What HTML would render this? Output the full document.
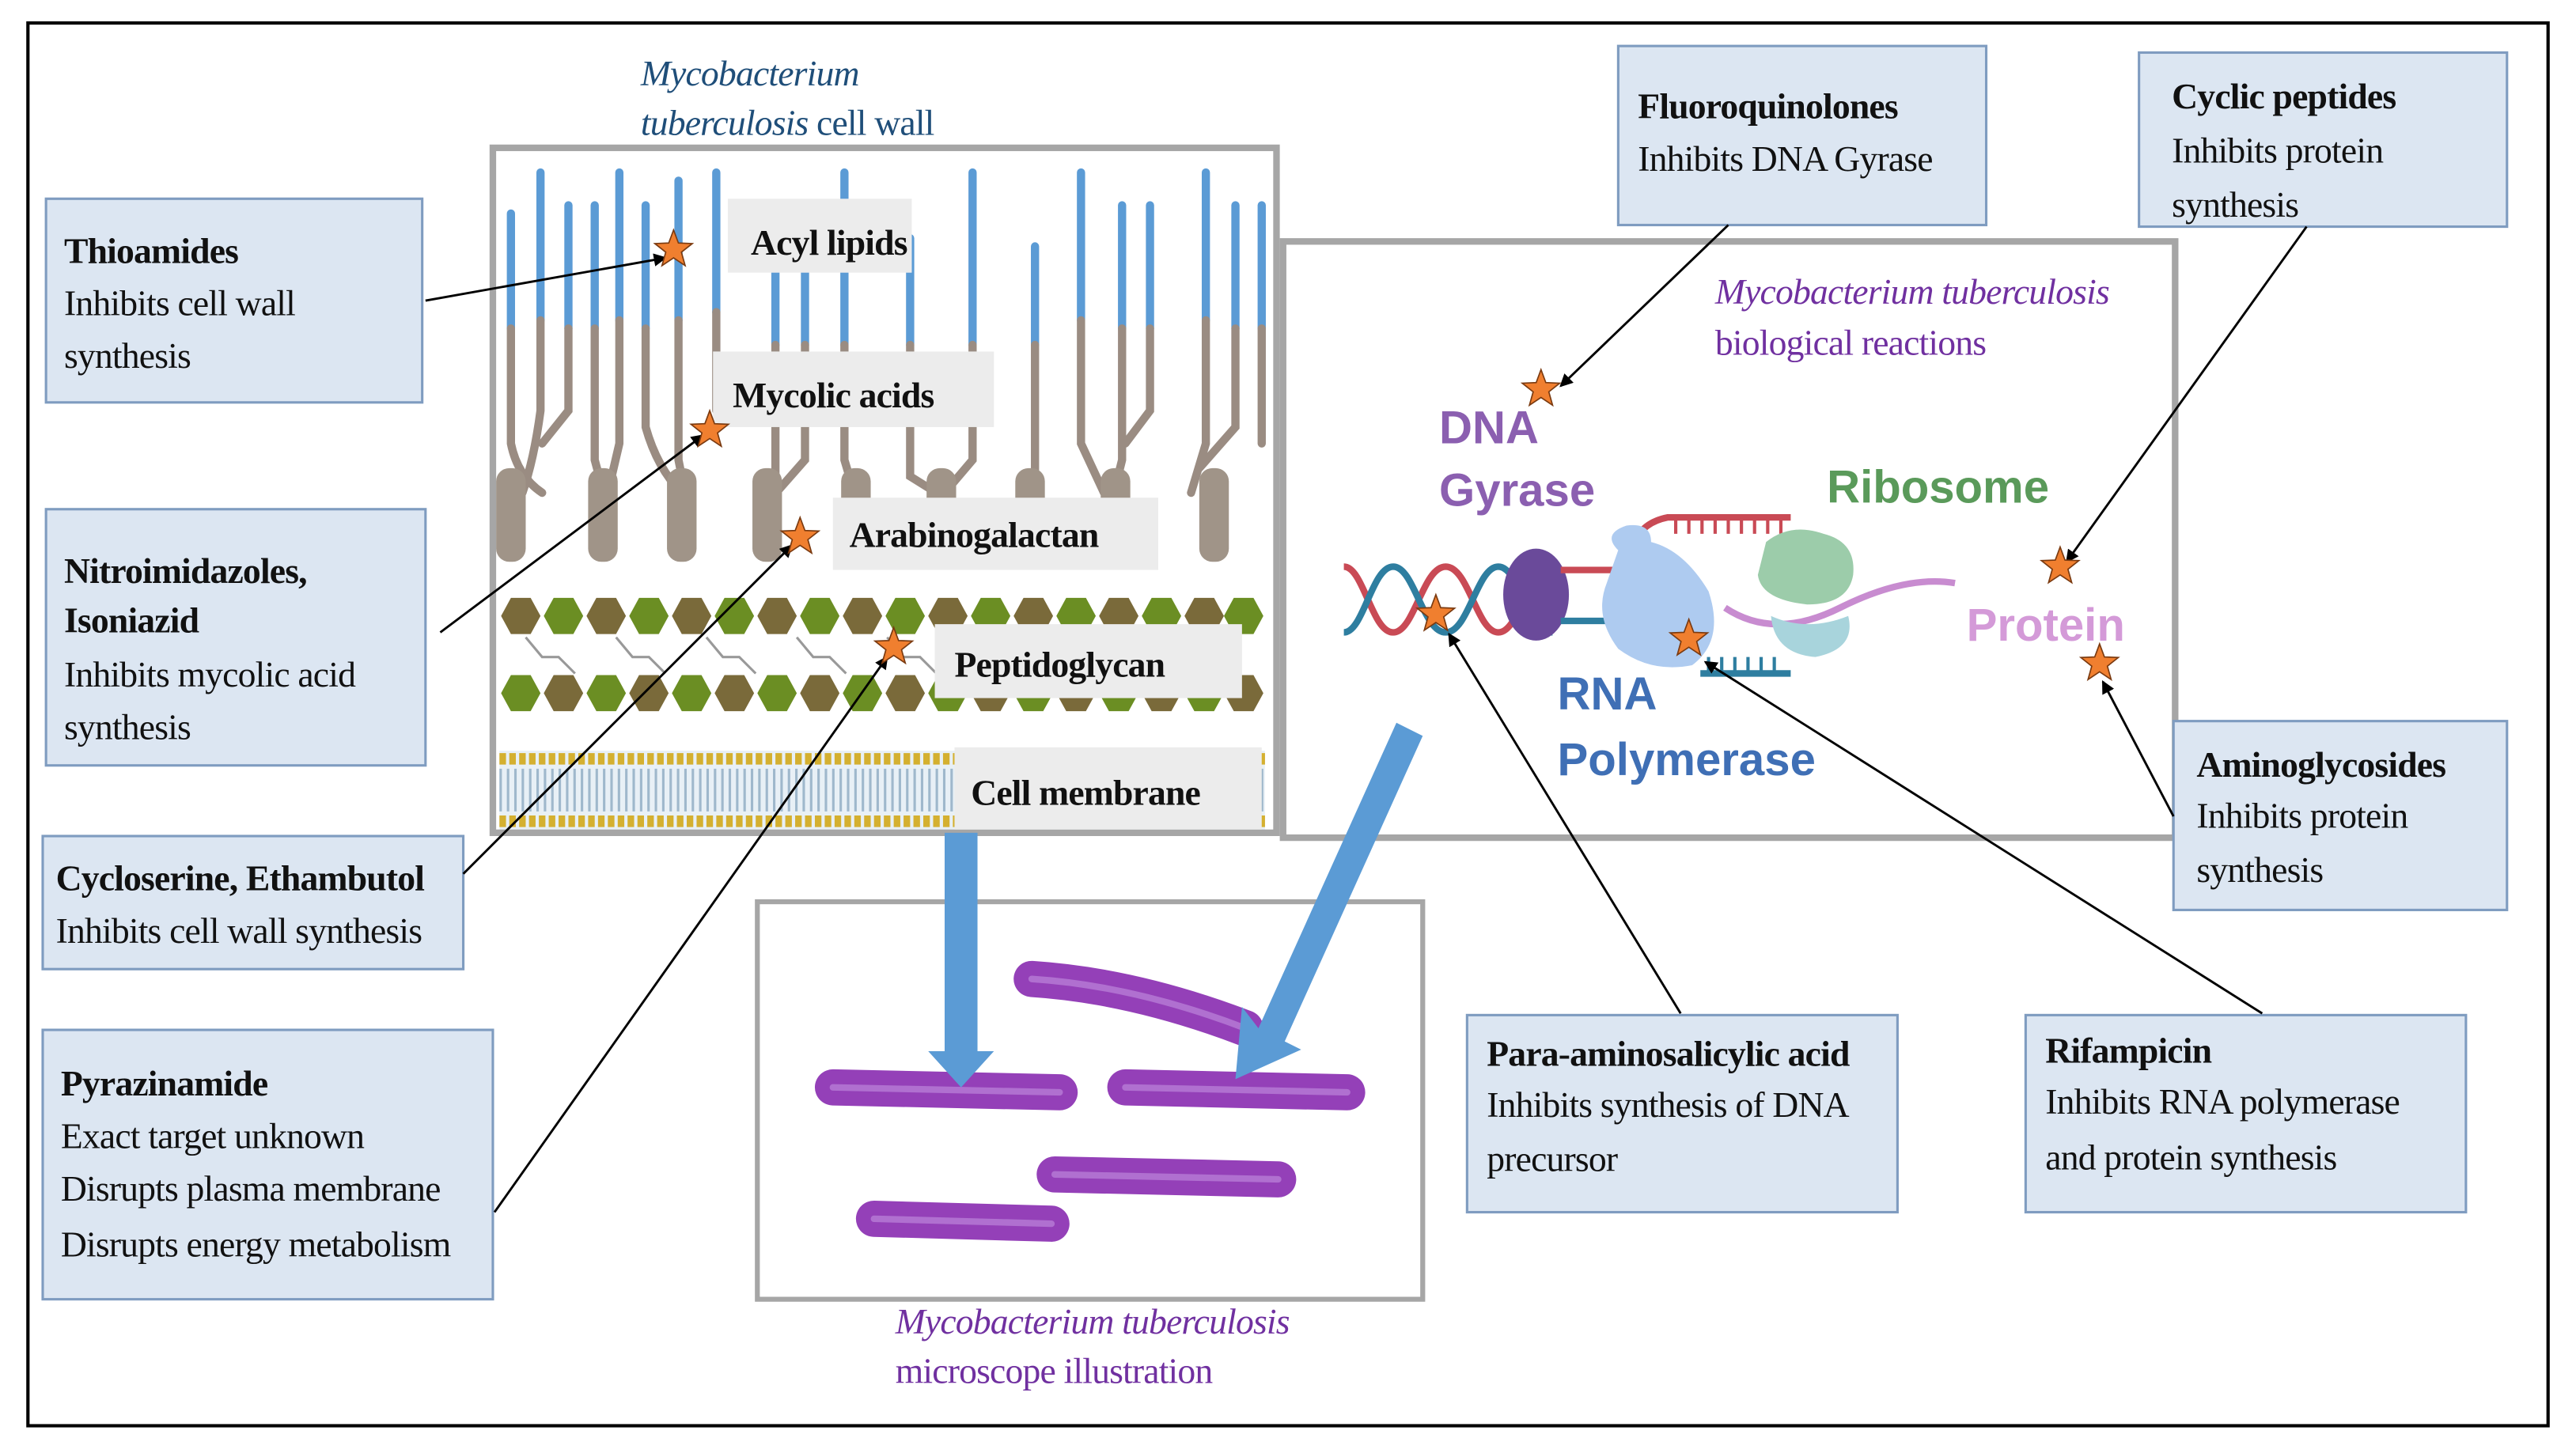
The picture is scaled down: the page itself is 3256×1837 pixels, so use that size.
<!DOCTYPE html>
<html><head><meta charset="utf-8"><style>
html,body{margin:0;padding:0;background:#fff;}
svg{display:block;}
.t{font-family:"Liberation Serif",serif;font-size:22px;fill:#111;letter-spacing:-0.4px;}
.b{font-weight:bold;}
.box{fill:#dce6f2;stroke:#7f9cc0;stroke-width:1.5;}
.lab{fill:#ececec;}
.con{stroke:#000;stroke-width:1.4;fill:none;marker-end:url(#ah);}
.sans{font-family:"Liberation Sans",sans-serif;font-weight:bold;}
</style></head><body>
<svg width="3256" height="1837" viewBox="0 0 1568 884.6" preserveAspectRatio="none" xmlns="http://www.w3.org/2000/svg">
<defs>
<marker id="ah" markerWidth="8" markerHeight="8" refX="7" refY="4" orient="auto" markerUnits="userSpaceOnUse"><path d="M0,0 L8,4 L0,8 z" fill="#000"/></marker>
<polygon id="star" points="0,-12 2.94,-4.05 11.41,-3.71 4.76,1.55 7.05,9.71 0,5 -7.05,9.71 -4.76,1.55 -11.41,-3.71 -2.94,-4.05" fill="#f07f2f" stroke="#7a3a10" stroke-width="0.8"/>
<polygon id="hex" points="-12,0 -6,-11 6,-11 12,0 6,11 -6,11"/>
</defs>
<rect x="0" y="0" width="1568" height="884.6" fill="#fff"/>
<rect x="17" y="14" width="1534" height="854" fill="none" stroke="#000" stroke-width="2"/>

<text x="390" y="52" class="t" style="fill:#1f4e79;font-style:italic">Mycobacterium</text>
<text x="390" y="82" class="t" style="fill:#1f4e79"><tspan font-style="italic">tuberculosis</tspan> cell wall</text>
<g stroke-linecap="round">
<g stroke="#5b9bd5" stroke-width="5">
<line x1="311" y1="130" x2="311" y2="200"/><line x1="329" y1="105" x2="329" y2="195"/><line x1="346" y1="125" x2="346" y2="200"/><line x1="362" y1="125" x2="362" y2="200"/><line x1="377" y1="105" x2="377" y2="195"/><line x1="393" y1="125" x2="393" y2="200"/><line x1="413" y1="110" x2="413" y2="195"/><line x1="436" y1="105" x2="436" y2="190"/><line x1="472" y1="150" x2="472" y2="210"/><line x1="490" y1="150" x2="490" y2="210"/><line x1="514" y1="105" x2="514" y2="210"/><line x1="554" y1="145" x2="554" y2="210"/><line x1="592" y1="105" x2="592" y2="210"/><line x1="630" y1="150" x2="630" y2="210"/><line x1="658" y1="105" x2="658" y2="195"/><line x1="683" y1="125" x2="683" y2="200"/><line x1="700" y1="125" x2="700" y2="200"/><line x1="734" y1="105" x2="734" y2="195"/><line x1="752" y1="125" x2="752" y2="200"/><line x1="768" y1="125" x2="768" y2="200"/>
</g>
<g stroke="#9a8c82" stroke-width="5" fill="none">
<path d="M311,200 L311,270 Q315,290 330,300"/><path d="M329,195 L329,250 Q325,280 318,300"/><path d="M346,200 L346,250 L330,270"/><path d="M362,200 L362,280 Q366,295 368,300"/><path d="M377,195 L377,270 L370,300"/><path d="M393,200 L393,260 Q400,285 415,300"/><path d="M413,195 L413,280 L418,305"/><path d="M436,190 L436,250"/><path d="M472,210 L472,290 L465,305"/><path d="M490,210 L490,280 L468,305"/><path d="M514,210 L514,280 L520,300"/><path d="M554,210 L554,290 L570,300"/><path d="M592,210 L592,280 L575,300"/><path d="M630,210 L630,290 L620,305"/><path d="M658,195 L658,270 L672,300"/><path d="M683,200 L683,280 L678,300"/><path d="M700,200 L700,250 L685,270"/><path d="M734,195 L734,270 L725,300"/><path d="M752,200 L752,260 L730,285"/><path d="M768,200 L768,270"/>
</g>
<g fill="#a09488">
<rect x="302" y="285" width="18" height="57" rx="8"/><rect x="358" y="285" width="18" height="57" rx="8"/><rect x="406" y="285" width="18" height="57" rx="8"/><rect x="458" y="285" width="18" height="57" rx="8"/><rect x="512" y="285" width="18" height="57" rx="8"/><rect x="564" y="285" width="18" height="57" rx="8"/><rect x="618" y="285" width="18" height="57" rx="8"/><rect x="670" y="285" width="18" height="57" rx="8"/><rect x="730" y="285" width="18" height="57" rx="8"/>
</g>
</g>
<g>
<use href="#hex" x="317" y="375" fill="#7a6a3a"/><use href="#hex" x="343" y="375" fill="#6b8e23"/><use href="#hex" x="369" y="375" fill="#7a6a3a"/><use href="#hex" x="395" y="375" fill="#6b8e23"/><use href="#hex" x="421" y="375" fill="#7a6a3a"/><use href="#hex" x="447" y="375" fill="#6b8e23"/><use href="#hex" x="473" y="375" fill="#7a6a3a"/><use href="#hex" x="499" y="375" fill="#6b8e23"/><use href="#hex" x="525" y="375" fill="#7a6a3a"/><use href="#hex" x="551" y="375" fill="#6b8e23"/><use href="#hex" x="577" y="375" fill="#7a6a3a"/><use href="#hex" x="603" y="375" fill="#6b8e23"/><use href="#hex" x="629" y="375" fill="#7a6a3a"/><use href="#hex" x="655" y="375" fill="#6b8e23"/><use href="#hex" x="681" y="375" fill="#7a6a3a"/><use href="#hex" x="707" y="375" fill="#6b8e23"/><use href="#hex" x="733" y="375" fill="#7a6a3a"/><use href="#hex" x="757" y="375" fill="#6b8e23"/>
<use href="#hex" x="317" y="422" fill="#6b8e23"/><use href="#hex" x="343" y="422" fill="#7a6a3a"/><use href="#hex" x="369" y="422" fill="#6b8e23"/><use href="#hex" x="395" y="422" fill="#7a6a3a"/><use href="#hex" x="421" y="422" fill="#6b8e23"/><use href="#hex" x="447" y="422" fill="#7a6a3a"/><use href="#hex" x="473" y="422" fill="#6b8e23"/><use href="#hex" x="499" y="422" fill="#7a6a3a"/><use href="#hex" x="525" y="422" fill="#6b8e23"/><use href="#hex" x="551" y="422" fill="#7a6a3a"/><use href="#hex" x="577" y="422" fill="#6b8e23"/><use href="#hex" x="603" y="422" fill="#7a6a3a"/><use href="#hex" x="629" y="422" fill="#6b8e23"/><use href="#hex" x="655" y="422" fill="#7a6a3a"/><use href="#hex" x="681" y="422" fill="#6b8e23"/><use href="#hex" x="707" y="422" fill="#7a6a3a"/><use href="#hex" x="733" y="422" fill="#6b8e23"/><use href="#hex" x="757" y="422" fill="#7a6a3a"/>
<path d="M320,388 l10,12 h10 l10,10 M375,388 l10,12 h10 l10,10 M430,388 l10,12 h10 l10,10 M485,388 l10,12 h10 l10,10 M540,388 l10,12 h10 l10,10" stroke="#999" stroke-width="1.5" fill="none"/>
</g>
<rect x="304" y="457" width="466" height="48" fill="#e8f0f6"/>
<line x1="304" y1="462" x2="770" y2="462" stroke="#d4b030" stroke-width="7" stroke-dasharray="4 2"/>
<line x1="304" y1="500" x2="770" y2="500" stroke="#d4b030" stroke-width="7" stroke-dasharray="4 2"/>
<line x1="304" y1="481" x2="770" y2="481" stroke="#9fb8cc" stroke-width="26" stroke-dasharray="1.5 3"/>
<rect x="300" y="90" width="477" height="417" fill="none" stroke="#a6a6a6" stroke-width="4"/>
<rect x="443" y="121" width="112" height="45" class="lab"/><text x="457" y="155" class="t b">Acyl lipids</text>
<rect x="434" y="214" width="171" height="46" class="lab"/><text x="446" y="248" class="t b">Mycolic acids</text>
<rect x="507" y="303" width="198" height="44" class="lab"/><text x="517" y="333" class="t b">Arabinogalactan</text>
<rect x="569" y="380" width="187" height="45" class="lab"/><text x="581" y="412" class="t b">Peptidoglycan</text>
<rect x="581" y="455" width="187" height="50" class="lab"/><text x="591" y="490" class="t b">Cell membrane</text>

<rect x="28" y="121" width="229" height="124" class="box"/>
<text x="39" y="160" class="t b">Thioamides</text><text x="39" y="192" class="t">Inhibits cell wall</text><text x="39" y="224" class="t">synthesis</text>
<rect x="28" y="310" width="231" height="156" class="box"/>
<text x="39" y="355" class="t b">Nitroimidazoles,</text><text x="39" y="385" class="t b">Isoniazid</text><text x="39" y="418" class="t">Inhibits mycolic acid</text><text x="39" y="450" class="t">synthesis</text>
<rect x="26" y="509" width="256" height="81" class="box"/>
<text x="34" y="542" class="t b">Cycloserine, Ethambutol</text><text x="34" y="574" class="t">Inhibits cell wall synthesis</text>
<rect x="26" y="627" width="274" height="164" class="box"/>
<text x="37" y="667" class="t b">Pyrazinamide</text><text x="37" y="699" class="t">Exact target unknown</text><text x="37" y="731" class="t">Disrupts plasma membrane</text><text x="37" y="765" class="t">Disrupts energy metabolism</text>

<rect x="781" y="147" width="543" height="363" fill="#fff" stroke="#a6a6a6" stroke-width="4"/>
<text x="1044" y="185" class="t" style="fill:#7030a0;font-style:italic">Mycobacterium tuberculosis</text>
<text x="1044" y="216" class="t" style="fill:#7030a0">biological reactions</text>
<text x="876" y="270" class="sans" font-size="28" fill="#8b5fb0">DNA</text>
<text x="876" y="308" class="sans" font-size="28" fill="#8b5fb0">Gyrase</text>
<text x="1112" y="306" class="sans" font-size="28" fill="#5a9a5a">Ribosome</text>
<text x="1197" y="390" class="sans" font-size="28" fill="#d49ad8">Protein</text>
<text x="948" y="432" class="sans" font-size="28" fill="#3f6fb5">RNA</text>
<text x="948" y="472" class="sans" font-size="28" fill="#3f6fb5">Polymerase</text>
<path d="M818,345 C830,345 835,385 848,385 C861,385 866,345 880,345 C894,345 899,385 912,385 C925,385 930,345 945,345" stroke="#c94a55" stroke-width="4" fill="none"/>
<path d="M818,385 C830,385 835,345 848,345 C861,345 866,385 880,385 C894,385 899,345 912,345 C925,345 930,385 945,385" stroke="#2e7ea0" stroke-width="4" fill="none"/>
<ellipse cx="935" cy="362" rx="20" ry="28" fill="#6a4a9a"/>
<path d="M950,347 H985" stroke="#c94a55" stroke-width="4"/>
<path d="M950,378 H985" stroke="#2e7ea0" stroke-width="4"/>
<path d="M995,330 Q1000,318 1015,315 H1090" stroke="#c94a55" stroke-width="4" fill="none"/>
<path d="M1020,315 v10 M1028,315 v10 M1036,315 v10 M1044,315 v10 M1052,315 v10 M1060,315 v10 M1068,315 v10 M1076,315 v10 M1084,315 v10" stroke="#c94a55" stroke-width="2"/>
<path d="M1035,410 H1090" stroke="#2e7ea0" stroke-width="4"/>
<path d="M1040,400 v10 M1048,400 v10 M1056,400 v10 M1064,400 v10 M1072,400 v10 M1080,400 v10" stroke="#2e7ea0" stroke-width="2"/>
<path d="M985,335 Q975,325 990,320 Q1005,318 1005,330 Q1025,335 1040,360 Q1050,390 1030,405 Q1005,410 985,395 Q970,375 978,355 Z" fill="#aecbf0"/>
<path d="M1050,370 Q1080,390 1120,370 Q1160,350 1190,355" stroke="#c88cd0" stroke-width="4" fill="none"/>
<path d="M1075,330 Q1090,318 1110,325 Q1130,330 1128,350 Q1125,368 1100,368 Q1072,365 1070,350 Z" fill="#9cccaa"/>
<path d="M1078,375 Q1100,385 1125,375 Q1130,395 1105,400 Q1080,398 1078,375 Z" fill="#a8d4dc"/>

<rect x="985" y="28" width="224" height="109" class="box"/>
<text x="997" y="72" class="t b">Fluoroquinolones</text><text x="997" y="104" class="t">Inhibits DNA Gyrase</text>
<rect x="1302" y="32" width="224" height="106" class="box"/>
<text x="1322" y="66" class="t b">Cyclic peptides</text><text x="1322" y="99" class="t">Inhibits protein</text><text x="1322" y="132" class="t">synthesis</text>
<rect x="1323" y="439" width="203" height="115" class="box"/>
<text x="1337" y="473" class="t b">Aminoglycosides</text><text x="1337" y="504" class="t">Inhibits protein</text><text x="1337" y="537" class="t">synthesis</text>
<rect x="1233" y="618" width="268" height="120" class="box"/>
<text x="1245" y="647" class="t b">Rifampicin</text><text x="1245" y="678" class="t">Inhibits RNA polymerase</text><text x="1245" y="712" class="t">and protein synthesis</text>
<rect x="893" y="618" width="262" height="120" class="box"/>
<text x="905" y="649" class="t b">Para-aminosalicylic acid</text><text x="905" y="680" class="t">Inhibits synthesis of DNA</text><text x="905" y="713" class="t">precursor</text>

<rect x="461" y="549" width="405" height="242" fill="#fff" stroke="#a6a6a6" stroke-width="3"/>
<g stroke-linecap="round" fill="none">
<g stroke="#9440b8" stroke-width="22">
<path d="M628,596 Q690,600 758,626"/><path d="M507,662 L645,665"/><path d="M685,662 L820,665"/><path d="M642,715 L778,718"/><path d="M532,742 L640,745"/>
</g>
<g stroke="#b070d0" stroke-width="4">
<path d="M628,596 Q690,600 758,626"/><path d="M507,662 L645,665"/><path d="M685,662 L820,665"/><path d="M642,715 L778,718"/><path d="M532,742 L640,745"/>
</g>
</g>
<text x="545" y="812" class="t" style="fill:#7030a0;font-style:italic">Mycobacterium tuberculosis</text>
<text x="545" y="842" class="t" style="fill:#7030a0">microscope illustration</text>
<polygon points="575,507 595,507 595,640 605,640 585,662 565,640 575,640" fill="#5b9bd5"/>
<polygon points="850,440 866,448 782,634 792,639 752,657 756,613 766,626" fill="#5b9bd5"/>

<line x1="259" y1="183" x2="405" y2="157" class="con"/>
<line x1="268" y1="385" x2="428" y2="265" class="con"/>
<line x1="282" y1="532" x2="482" y2="332" class="con"/>
<line x1="301" y1="738" x2="540" y2="400" class="con"/>
<line x1="1052" y1="137" x2="950" y2="235" class="con"/>
<line x1="1404" y1="138" x2="1258" y2="342" class="con"/>
<line x1="1323" y1="497" x2="1280" y2="415" class="con"/>
<line x1="1377" y1="617" x2="1038" y2="403" class="con"/>
<line x1="1023" y1="617" x2="882" y2="386" class="con"/>

<use href="#star" x="410" y="152"/><use href="#star" x="432" y="262"/><use href="#star" x="487" y="327"/><use href="#star" x="544" y="394"/>
<use href="#star" x="938" y="237"/><use href="#star" x="874" y="374"/><use href="#star" x="1028" y="389"/><use href="#star" x="1254" y="345"/><use href="#star" x="1278" y="404"/>
</svg>
</body></html>
